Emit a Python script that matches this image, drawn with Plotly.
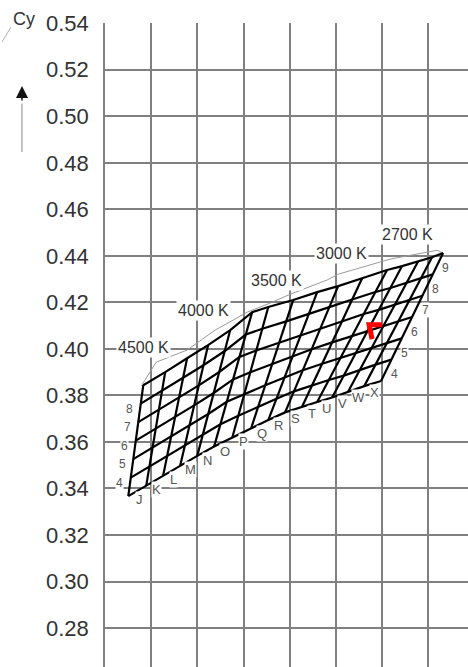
import plotly.graph_objects as go

# ---------------- data ----------------
y_ticks = [0.28, 0.30, 0.32, 0.34, 0.36, 0.38, 0.40, 0.42, 0.44, 0.46, 0.48, 0.50, 0.52, 0.54]
x_grid = [0.34, 0.36, 0.38, 0.40, 0.42, 0.44, 0.46, 0.48]

column_letters = ["J", "K", "L", "M", "N", "O", "P", "Q", "R", "S", "T", "U", "V", "W", "X"]
row_numbers_left = ["4", "5", "6", "7", "8"]
row_numbers_right = ["4", "5", "6", "7", "8", "9"]

# top edge of the bin mesh (one point per column line)
top_cx = [0.3565, 0.3660, 0.3755, 0.3846, 0.3942, 0.4037, 0.4107, 0.4215,
          0.4319, 0.4410, 0.4514, 0.4622, 0.4687, 0.4757, 0.4817, 0.4865]
top_cy = [0.3844, 0.3900, 0.3960, 0.4016, 0.4081, 0.4158, 0.4180, 0.4210,
          0.4244, 0.4270, 0.4304, 0.4339, 0.4356, 0.4377, 0.4394, 0.4412]
# bottom edge of the bin mesh
bottom_cx = [0.3500, 0.3578, 0.3651, 0.3725, 0.3799, 0.3872, 0.3951, 0.4033,
             0.4107, 0.4180, 0.4254, 0.4319, 0.4384, 0.4453, 0.4523, 0.4596]
bottom_cy = [0.3367, 0.3413, 0.3455, 0.3498, 0.3540, 0.3580, 0.3619, 0.3660,
             0.3694, 0.3727, 0.3752, 0.3772, 0.3791, 0.3816, 0.3840, 0.3862]
n_row_cells = 6

# thin isotherm outline above the mesh
outline_cx = [0.3556, 0.3595, 0.3621, 0.3755, 0.3877, 0.4016, 0.4115,
              0.4202, 0.4362, 0.4410, 0.4635, 0.4839, 0.4865]
outline_cy = [0.3840, 0.3900, 0.3943, 0.3995, 0.4081, 0.4158, 0.4197,
              0.4235, 0.4296, 0.4321, 0.4386, 0.4424, 0.4412]

cct_labels = ["4500 K", "4000 K", "3500 K", "3000 K", "2700 K"]
cct_cx = [0.3565, 0.3825, 0.4141, 0.4423, 0.4709]
cct_cy = [0.4008, 0.4167, 0.4296, 0.4412, 0.4493]

# red marker
marker_cx = [0.4601, 0.4544, 0.4557]
marker_cy = [0.4104, 0.4104, 0.4042]

# ---------------- figure ----------------
FONT = "Liberation Sans, Arial, sans-serif"
n_cols = len(top_cx)


def mesh_point(c, f):
    return (bottom_cx[c] + f * (top_cx[c] - bottom_cx[c]),
            bottom_cy[c] + f * (top_cy[c] - bottom_cy[c]))


row_x, row_y = [], []
for r in range(n_row_cells + 1):
    f = r / n_row_cells
    for c in range(n_cols):
        px, py = mesh_point(c, f)
        row_x.append(px)
        row_y.append(py)
    row_x.append(None)
    row_y.append(None)

col_x, col_y = [], []
for c in range(n_cols):
    col_x += [bottom_cx[c], top_cx[c], None]
    col_y += [bottom_cy[c], top_cy[c], None]

fig = go.Figure()
fig.add_trace(go.Scatter(x=outline_cx, y=outline_cy, mode="lines",
                         line=dict(color="#9a9a9a", width=1), hoverinfo="skip"))
fig.add_trace(go.Scatter(x=row_x, y=row_y, mode="lines",
                         line=dict(color="black", width=2.2), hoverinfo="skip"))
fig.add_trace(go.Scatter(x=col_x, y=col_y, mode="lines",
                         line=dict(color="black", width=2.2), hoverinfo="skip"))
fig.add_trace(go.Scatter(x=marker_cx, y=marker_cy, mode="lines",
                         line=dict(color="#ff0000", width=5), hoverinfo="skip"))

annotations = []
# CCT labels
for lab, cx, cy in zip(cct_labels, cct_cx, cct_cy):
    annotations.append(dict(x=cx, y=cy, xref="x", yref="y", text=lab, showarrow=False,
                            font=dict(family=FONT, size=16, color="#333333"),
                            bgcolor="white", borderpad=1))
# column letters (cell centres along bottom edge)
for i, letter in enumerate(column_letters):
    cx = (bottom_cx[i] + bottom_cx[i + 1]) / 2
    cy = (bottom_cy[i] + bottom_cy[i + 1]) / 2
    annotations.append(dict(x=cx, y=cy, xref="x", yref="y", text=letter, showarrow=False,
                            xshift=2, yshift=-9,
                            font=dict(family=FONT, size=13, color="#555555"),
                            bgcolor="white", borderpad=0))
# left row numbers
for k, num in enumerate(row_numbers_left):
    px, py = mesh_point(0, (k + 0.5) / n_row_cells)
    annotations.append(dict(x=px, y=py, xref="x", yref="y", text=num, showarrow=False,
                            xshift=-10, yshift=4,
                            font=dict(family=FONT, size=12, color="#555555"),
                            bgcolor="white", borderpad=0))
# right row numbers
for k, num in enumerate(row_numbers_right):
    px, py = mesh_point(n_cols - 1, (k + 0.5) / n_row_cells)
    annotations.append(dict(x=px, y=py, xref="x", yref="y", text=num, showarrow=False,
                            xshift=8, yshift=-4,
                            font=dict(family=FONT, size=12, color="#555555"),
                            bgcolor="white", borderpad=0))

# axis title "Cy" and arrow
annotations.append(dict(x=-0.2231, y=1.0062, xref="paper", yref="paper", text="Cy",
                        showarrow=False, xanchor="center", yanchor="middle",
                        font=dict(family=FONT, size=18, color="#333333")))
annotations.append(dict(x=-0.2287, y=0.9022, xref="paper", yref="paper", text="",
                        showarrow=True, ax=0, ay=16, arrowhead=2, arrowsize=1.6,
                        arrowwidth=1.5, arrowcolor="#111111"))
# partially visible bottom tick label
annotations.append(dict(x=-0.0275, y=-0.0117, xref="paper", yref="paper", text="0.26",
                        showarrow=False, xanchor="right", yanchor="middle",
                        font=dict(family=FONT, size=22, color="#333333")))

shapes = [
    dict(type="line", xref="paper", yref="paper", x0=-0.2287, x1=-0.2287,
         y0=0.8750, y1=0.7997, line=dict(color="#8a8a8a", width=1)),
    dict(type="line", xref="paper", yref="paper", x0=-0.2837, x1=-0.2590,
         y0=0.9705, y1=0.9938, line=dict(color="#b0b0b0", width=1)),
]

fig.update_layout(
    width=468, height=667,
    margin=dict(l=105, r=0, t=23, b=0, autoexpand=False),
    paper_bgcolor="white", plot_bgcolor="white",
    showlegend=False,
    annotations=annotations,
    shapes=shapes,
    xaxis=dict(range=[0.3399, 0.4973], tickvals=x_grid, showticklabels=False,
               showgrid=True, gridcolor="#808080", gridwidth=1.5,
               zeroline=False, showline=False, ticks="", fixedrange=True),
    yaxis=dict(range=[0.26325, 0.5401], tickvals=y_ticks,
               ticktext=[f"{v:.2f}" for v in y_ticks],
               showgrid=True, gridcolor="#808080", gridwidth=1.5,
               zeroline=False, showline=True, linecolor="#808080", linewidth=1.5,
               ticks="", ticklabelstandoff=10,
               tickfont=dict(family=FONT, size=22, color="#333333"),
               fixedrange=True),
)

fig.write_html(
    "out.html",
    config={"displayModeBar": False},
    post_script="document.body.style.margin='0';document.body.style.overflow='hidden';",
)
